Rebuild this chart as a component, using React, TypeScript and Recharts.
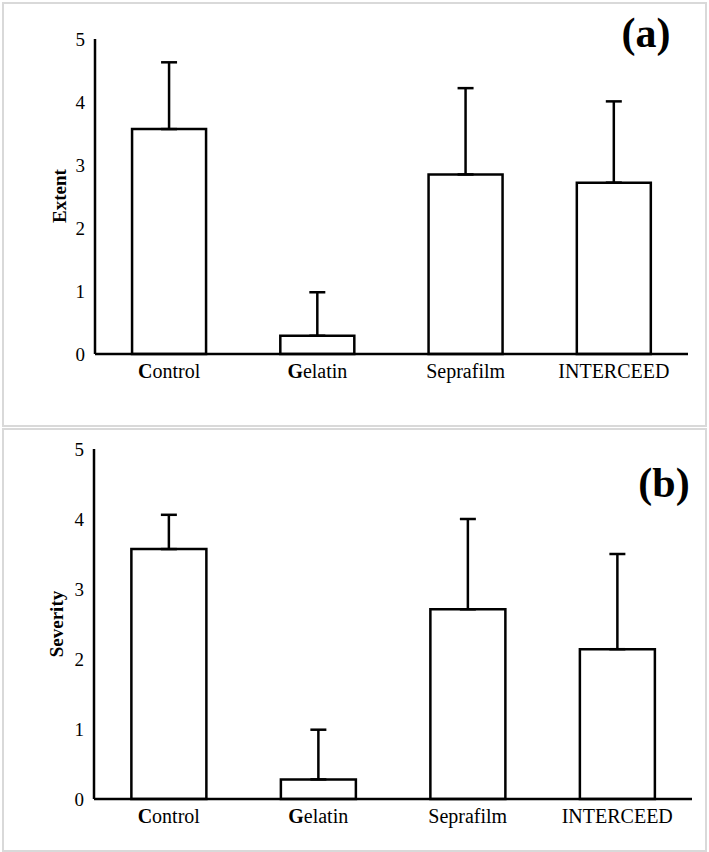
import React from 'react';
import { BarChart, Bar, XAxis, YAxis, ErrorBar } from 'recharts';

const categories = ['Control', 'Gelatin', 'Seprafilm', 'INTERCEED'];
const extentMean = [3.57, 0.29, 2.85, 2.72];
const extentSD = [1.06, 0.69, 1.37, 1.29];
const severityMean = [3.57, 0.28, 2.71, 2.14];
const severitySD = [0.49, 0.71, 1.29, 1.36];
const yTicks = [0, 1, 2, 3, 4, 5];

const FONT = '"Liberation Serif", "Times New Roman", serif';

const build = (means: number[], sds: number[]) =>
  categories.map((c, i) => ({ name: c, value: means[i], err: [0, sds[i]] }));

const extentData = build(extentMean, extentSD);
const severityData = build(severityMean, severitySD);

const XTick = (props: any) => {
  const { x, y, payload } = props;
  const v: string = payload.value;
  const boldFirst = v === 'Control' || v === 'Gelatin';
  return (
    <text x={x} y={y} dy="0.71em" textAnchor="middle" fontFamily={FONT} fontSize={20} fill="#000">
      {boldFirst ? (
        <>
          <tspan fontWeight="bold">{v[0]}</tspan>
          <tspan>{v.slice(1)}</tspan>
        </>
      ) : (
        v
      )}
    </text>
  );
};

const Panel = ({ data, margin, top }: any) => (
  <div style={{ position: 'absolute', left: 0, top, width: 709, height: 426 }}>
    <BarChart width={709} height={426} data={data} margin={margin} barCategoryGap="25%">
      <XAxis
        dataKey="name"
        height={30}
        tickLine={false}
        tickSize={0}
        tickMargin={10}
        axisLine={{ stroke: '#000', strokeWidth: 2.5 }}
        tick={<XTick />}
        interval={0}
      />
      <YAxis
        width={60}
        domain={[0, 5]}
        ticks={yTicks}
        tickLine={false}
        tickSize={0}
        tickMargin={10}
        axisLine={{ stroke: '#000', strokeWidth: 2.5 }}
        tick={{ fill: '#000', fontFamily: FONT, fontSize: 19 }}
      />
      <Bar dataKey="value" fill="#fff" stroke="#000" strokeWidth={2.5} isAnimationActive={false}>
        <ErrorBar dataKey="err" direction="y" width={8} stroke="#000" strokeWidth={2.5} />
      </Bar>
    </BarChart>
  </div>
);

export default function App() {
  return (
    <div style={{ position: 'absolute', left: 0, top: 0, width: 709, height: 852, background: '#fff' }}>
      <div style={{ position: 'absolute', left: 2, top: 2, width: 701, height: 421, border: '2px solid #d9d9d9' }} />
      <div style={{ position: 'absolute', left: 2, top: 428, width: 701, height: 420, border: '2px solid #d9d9d9' }} />
      <Panel data={extentData} top={0} margin={{ top: 39, right: 21, bottom: 42, left: 35 }} />
      <Panel data={severityData} top={426} margin={{ top: 23, right: 17, bottom: 23, left: 34 }} />
      <svg width={709} height={852} style={{ position: 'absolute', left: 0, top: 0, pointerEvents: 'none' }}>
        <text x={59} y={196} transform="rotate(-90 59 196)" textAnchor="middle" dominantBaseline="central" fontFamily={FONT} fontWeight="bold" fontSize={19} fill="#000">Extent</text>
        <text x={56} y={624} transform="rotate(-90 56 624)" textAnchor="middle" dominantBaseline="central" fontFamily={FONT} fontWeight="bold" fontSize={19} fill="#000">Severity</text>
        <text x={646} y={47} textAnchor="middle" fontFamily={FONT} fontWeight="bold" fontSize={42} fill="#000">(a)</text>
        <text x={664} y={497} textAnchor="middle" fontFamily={FONT} fontWeight="bold" fontSize={42} fill="#000">(b)</text>
      </svg>
    </div>
  );
}
